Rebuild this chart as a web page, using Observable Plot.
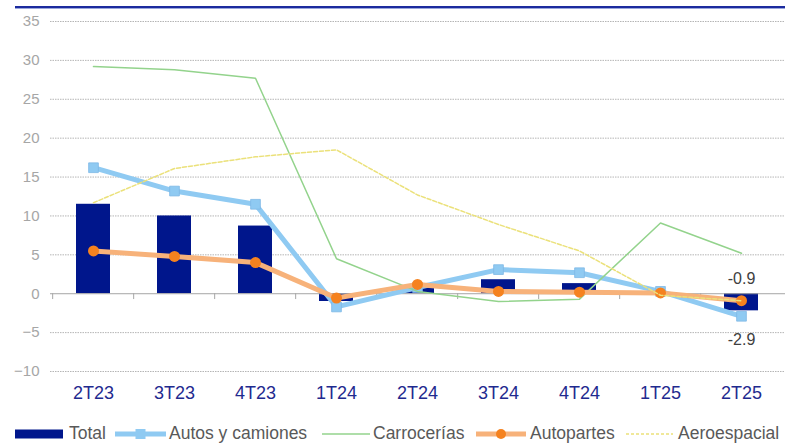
<!DOCTYPE html>
<html>
<head>
<meta charset="utf-8">
<script src="https://cdn.jsdelivr.net/npm/d3@7"></script>
<script src="https://cdn.jsdelivr.net/npm/@observablehq/plot@0.6"></script>
<style>
  html, body { margin: 0; padding: 0; background: #fff; }
  #wrap { position: relative; width: 785px; height: 443px; overflow: hidden; font-family: "Liberation Sans", Arial, sans-serif; }
  #toprule { position: absolute; left: 15px; top: 6px; width: 770px; height: 2px; background: #1c2b9e; border-bottom: 1px solid #9aa6dc; }
  #chart { position: absolute; left: 0; top: 0; }
  #legend { position: absolute; left: 0; top: 419px; }
</style>
</head>
<body>
<div id="wrap">
  <div id="chart"></div>
  <div id="toprule"></div>
  <div id="legend"></div>
</div>
<script>
const categories = ["2T23","3T23","4T23","1T24","2T24","3T24","4T24","1T25","2T25"];
const total        = [11.5, 10.0, 8.7, -1.0, 1.0, 1.8, 1.3, 0.1, -2.2];
const autos        = [16.2, 13.2, 11.5, -1.7, 0.8, 3.1, 2.7, 0.3, -2.9];
const carrocerias  = [29.2, 28.8, 27.7, 4.5, 0.3, -1.0, -0.7, 9.1, 5.2];
const autopartes   = [5.5, 4.8, 4.0, -0.55, 1.2, 0.3, 0.2, 0.1, -0.9];
const aeroespacial = [11.7, 16.1, 17.6, 18.5, 12.7, 8.9, 5.5, -0.2, -0.9];
const yTicks = [-10, -5, 0, 5, 10, 15, 20, 25, 30, 35];
const seriesNames = ["Total", "Autos y camiones", "Carrocerías", "Autopartes", "Aeroespacial"];
const endLabels = [
  {cat: "2T25", value: -0.9, text: "-0.9", pos: "above"},
  {cat: "2T25", value: -2.9, text: "-2.9", pos: "below"}
];

const rows = (vals) => categories.map((c, i) => ({cat: c, value: vals[i]}));

const W = 785, H = 419, mL = 50, mR = 0;
const step = (W - mL - mR) / categories.length;

const plot = Plot.plot({
  width: W,
  height: H,
  marginLeft: mL,
  marginRight: mR,
  marginTop: 21,
  marginBottom: 48,
  style: {fontFamily: "'Liberation Sans', Arial, sans-serif", background: "white"},
  x: {type: "band", domain: categories, paddingInner: 0.58, paddingOuter: 0.29, label: null},
  y: {domain: [-10, 35], ticks: yTicks, label: null},
  marks: [
    Plot.ruleY(yTicks.filter(d => d !== 0), {stroke: "#b5b5b5", strokeWidth: 1, strokeDasharray: "1.5,1"}),
    Plot.axisY({ticks: yTicks, tickSize: 0, tickPadding: 11, fontSize: 15, color: "#a6a6a6", label: null}),
    Plot.axisX({tickSize: 0, tickPadding: 15, fontSize: 18, color: "#1f2a8f", label: null}),
    Plot.barY(rows(total), {x: "cat", y: "value", fill: "#00168c"}),
    Plot.ruleY([0], {stroke: "#a6a6a6", strokeWidth: 1}),
    Plot.ruleX(categories, {x: d => d, y1: 0, y2: -0.75, dx: -step / 2, stroke: "#a6a6a6", strokeWidth: 1}),
    Plot.line(rows(autos), {x: "cat", y: "value", stroke: "#8fcaf2", strokeWidth: 5}),
    Plot.dot(rows(autos), {x: "cat", y: "value", symbol: "square", r: 5.5, fill: "#8fcaf2", stroke: "#7fb9e6", strokeWidth: 0.8}),
    Plot.line(rows(carrocerias), {x: "cat", y: "value", stroke: "#93d38c", strokeWidth: 1.5}),
    Plot.line(rows(autopartes), {x: "cat", y: "value", stroke: "#f7b27a", strokeWidth: 5}),
    Plot.dot(rows(autopartes), {x: "cat", y: "value", r: 5.5, fill: "#f5821f"}),
    Plot.line(rows(aeroespacial), {x: "cat", y: "value", stroke: "#ebe17a", strokeWidth: 1.5, strokeDasharray: "4,2"}),
    Plot.text(endLabels.filter(d => d.pos === "above"), {x: "cat", y: "value", text: "text", lineAnchor: "bottom", dy: -17, fontSize: 16, fill: "#404040"}),
    Plot.text(endLabels.filter(d => d.pos === "below"), {x: "cat", y: "value", text: "text", lineAnchor: "top", dy: 17, fontSize: 16, fill: "#404040"})
  ]
});
document.getElementById("chart").appendChild(plot);

// Legend
const legendItems = [
  {name: seriesNames[0], kind: "bar", color: "#00168c", x0: 15, x1: 63, tx: 69},
  {name: seriesNames[1], kind: "lineSquare", color: "#8fcaf2", x0: 115, x1: 166, tx: 169},
  {name: seriesNames[2], kind: "thin", color: "#93d38c", x0: 322, x1: 370, tx: 373},
  {name: seriesNames[3], kind: "lineDot", color: "#f7b27a", x0: 476, x1: 526, tx: 530},
  {name: seriesNames[4], kind: "dash", color: "#ebe17a", x0: 626, x1: 673, tx: 678}
];
const svg = d3.select("#legend").append("svg").attr("width", 785).attr("height", 24);
const cy = 15;
for (const it of legendItems) {
  if (it.kind === "bar") {
    svg.append("rect").attr("x", it.x0).attr("y", cy - 4.5).attr("width", it.x1 - it.x0).attr("height", 9).attr("fill", it.color);
  } else if (it.kind === "lineSquare") {
    svg.append("line").attr("x1", it.x0).attr("x2", it.x1).attr("y1", cy).attr("y2", cy).attr("stroke", it.color).attr("stroke-width", 5);
    const m = (it.x0 + it.x1) / 2;
    svg.append("rect").attr("x", m - 5).attr("y", cy - 5).attr("width", 10).attr("height", 10).attr("fill", it.color);
  } else if (it.kind === "thin") {
    svg.append("line").attr("x1", it.x0).attr("x2", it.x1).attr("y1", cy).attr("y2", cy).attr("stroke", it.color).attr("stroke-width", 1.5);
  } else if (it.kind === "lineDot") {
    svg.append("line").attr("x1", it.x0).attr("x2", it.x1).attr("y1", cy).attr("y2", cy).attr("stroke", it.color).attr("stroke-width", 5);
    svg.append("circle").attr("cx", (it.x0 + it.x1) / 2).attr("cy", cy).attr("r", 5).attr("fill", "#f5821f");
  } else {
    svg.append("line").attr("x1", it.x0).attr("x2", it.x1).attr("y1", cy).attr("y2", cy).attr("stroke", it.color).attr("stroke-width", 1.5).attr("stroke-dasharray", "3,2");
  }
  svg.append("text").attr("x", it.tx).attr("y", 20).attr("font-size", 17.5).attr("fill", "#595959")
    .attr("font-family", "'Liberation Sans', Arial, sans-serif").text(it.name);
}
</script>
</body>
</html>
